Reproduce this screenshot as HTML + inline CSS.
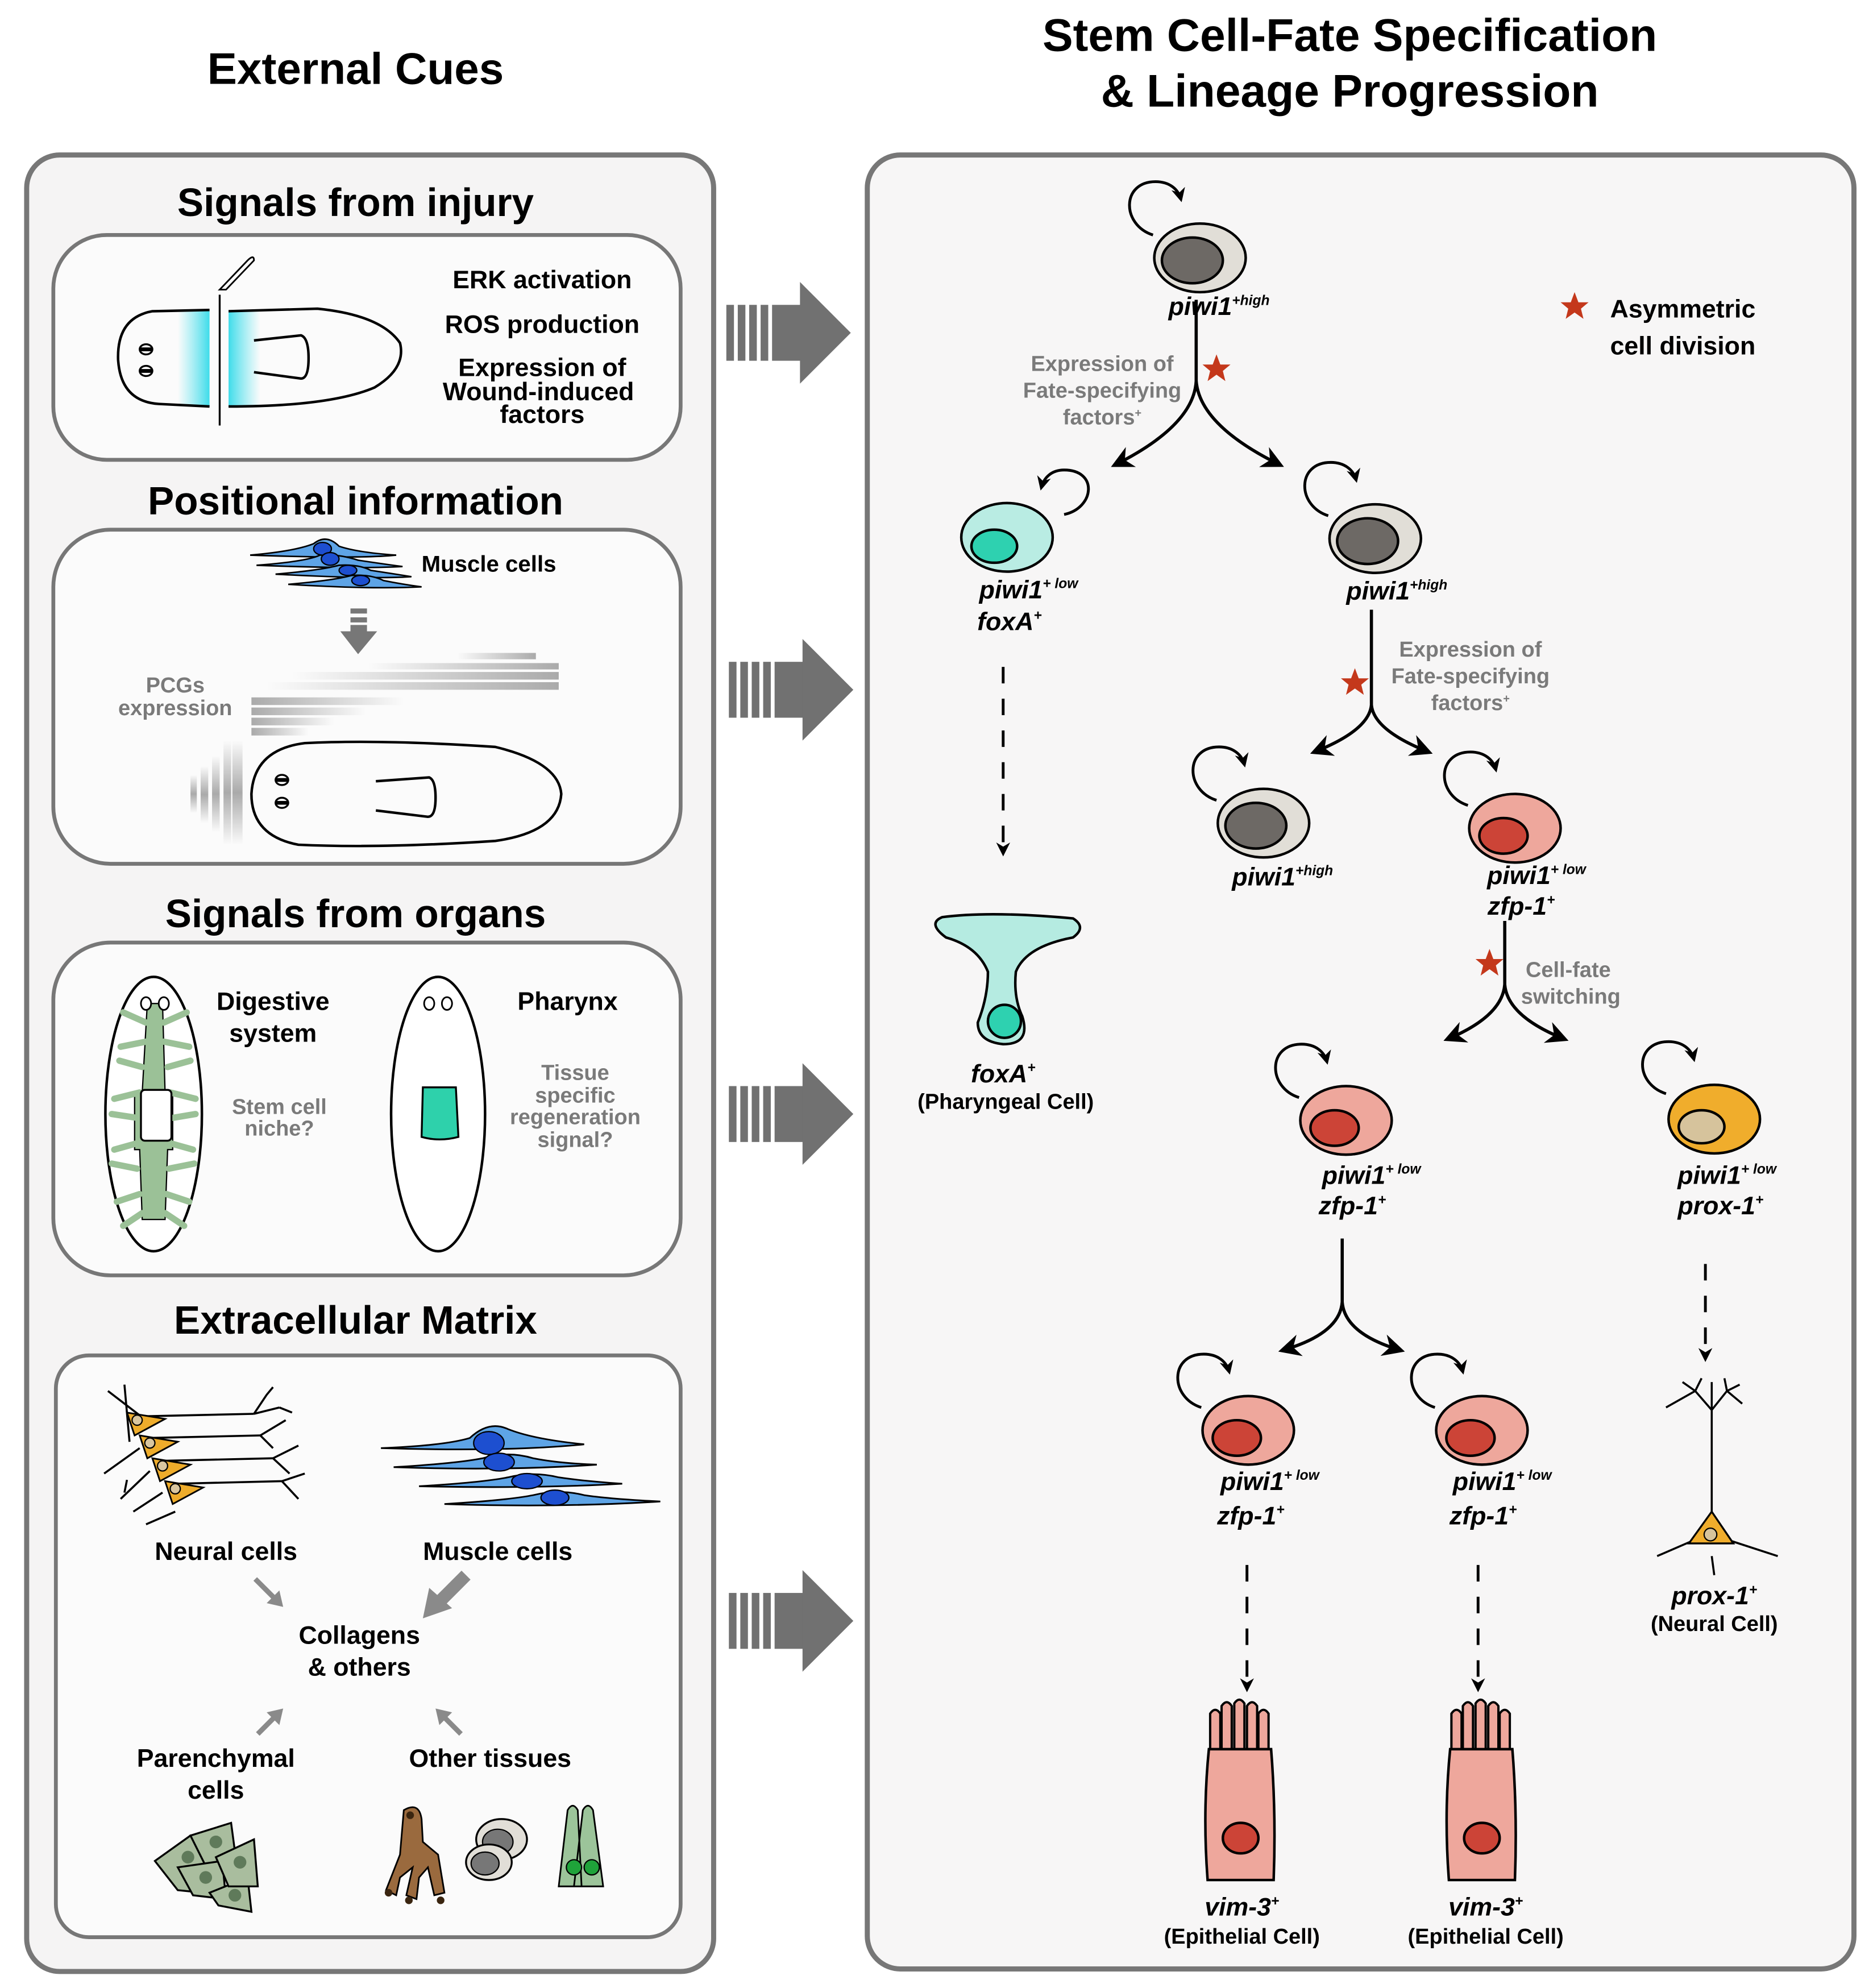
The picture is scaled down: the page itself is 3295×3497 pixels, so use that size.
<!DOCTYPE html>
<html><head><meta charset="utf-8"><style>
html,body{margin:0;padding:0;background:#fff}
svg{display:block}
text{font-family:"Liberation Sans",Arial,sans-serif}
.b{font-weight:bold}
.t{font-weight:bold;font-size:31px;text-anchor:middle}
.l{font-weight:bold;font-size:19px;text-anchor:middle}
.g{font-weight:bold;font-size:17px;fill:#7a7a7a;text-anchor:middle}
.p{font-weight:bold;font-style:italic;font-size:20px;text-anchor:middle}
.s{font-size:11px}
</style></head><body>
<svg width="3295" height="3497" viewBox="0 0 1475 1565" preserveAspectRatio="none" xmlns="http://www.w3.org/2000/svg">
<defs>
<marker id="ah" viewBox="0 0 10 10" refX="8" refY="5" markerWidth="5" markerHeight="5" orient="auto"><path d="M0,0 L10,5 L0,10 L3,5z" fill="#000"/></marker>
<marker id="ah2" viewBox="0 0 10 10" refX="8" refY="5" markerWidth="7" markerHeight="7" orient="auto"><path d="M0,0 L10,5 L0,10 L3,5z" fill="#000"/></marker>
<linearGradient id="cyL" x1="0" x2="1"><stop offset="0" stop-color="#5fe3ee" stop-opacity="0"/><stop offset="1" stop-color="#3fdcea"/></linearGradient>
<linearGradient id="cyR" x1="0" x2="1"><stop offset="0" stop-color="#3fdcea"/><stop offset="1" stop-color="#5fe3ee" stop-opacity="0"/></linearGradient>
<linearGradient id="grR" x1="0" x2="1"><stop offset="0" stop-color="#aaa" stop-opacity="0"/><stop offset="1" stop-color="#aaa"/></linearGradient>
<linearGradient id="grL" x1="0" x2="1"><stop offset="0" stop-color="#aaa"/><stop offset="1" stop-color="#aaa" stop-opacity="0"/></linearGradient>
<linearGradient id="grV" x1="0" x2="0" y1="0" y2="1"><stop offset="0" stop-color="#aaa" stop-opacity="0"/><stop offset=".5" stop-color="#aaa"/><stop offset="1" stop-color="#aaa" stop-opacity="0"/></linearGradient>
<g id="loopL"><path d="M-37,-18 C-62,-26 -62,-60 -35,-60 C-24,-60 -17,-54 -15,-46" fill="none" stroke="#000" stroke-width="2.2" marker-end="url(#ah)"/></g>
<g id="gray"><use href="#loopL"/><ellipse cx="0" cy="0" rx="36" ry="27" fill="#e1ded7" stroke="#000" stroke-width="2"/><ellipse cx="-6" cy="2" rx="24" ry="18" fill="#6d6965" stroke="#000" stroke-width="2"/></g>
<g id="pink"><use href="#loopL"/><ellipse cx="0" cy="0" rx="36" ry="27" fill="#eea79c" stroke="#000" stroke-width="2"/><ellipse cx="-9" cy="6" rx="19" ry="14" fill="#cc4437" stroke="#000" stroke-width="2"/></g>
<g id="bigarrow" fill="#717171"><rect x="0" y="-22" width="6" height="44"/><rect x="9" y="-22" width="6" height="44"/><rect x="18" y="-22" width="6" height="44"/><rect x="27" y="-22" width="6" height="44"/><rect x="36" y="-22" width="24" height="44"/><path d="M58,-40 L98,0 L58,40z"/></g>
<path id="star" d="M0,-11 L3,-3 L11,-3 L5,2 L7,10 L0,5 L-7,10 L-5,2 L-11,-3 L-3,-3z" fill="#c4381b"/>
<g id="epi"><path d="M-24,-68 l0,-30 q4,-6 8,0 l0,30 M-15,-68 l0,-36 q4,-6 8,0 l0,36 M-5,-68 l0,-38 q4,-6 8,0 l0,38 M5,-68 l0,-36 q4,-6 8,0 l0,36 M14,-68 l0,-30 q4,-6 8,0 l0,30" fill="#eea79c" stroke="#000" stroke-width="1.8"/><path d="M-25,-70 L24,-70 Q28,-20 26,33 L-26,33 Q-30,-20 -25,-70z" fill="#eea79c" stroke="#000" stroke-width="2"/><ellipse cx="0" cy="0" rx="14" ry="12" fill="#cc4437" stroke="#000" stroke-width="2"/></g>
</defs>
<rect width="1475" height="1565" fill="#fff"/>
<text x="280" y="66" class="t" style="font-size:35px">External Cues</text>
<text x="1063" y="40" class="t" style="font-size:36px">Stem Cell-Fate Specification</text>
<text x="1063" y="84" class="t" style="font-size:36px">&amp; Lineage Progression</text>
<rect x="21" y="122" width="541" height="1430" rx="26" fill="#f5f4f4" stroke="#777" stroke-width="4"/>
<rect x="683" y="122" width="777" height="1428" rx="26" fill="#f7f6f6" stroke="#777" stroke-width="4"/>

<!-- Box 1 -->
<text x="280" y="170" class="t">Signals from injury</text>
<rect x="42" y="185" width="494" height="177" rx="42" fill="#fbfbfb" stroke="#777" stroke-width="3"/>
<rect x="140" y="245" width="25" height="75" fill="url(#cyL)"/>
<rect x="180" y="245" width="25" height="75" fill="url(#cyR)"/>
<path d="M165,244 L120,245 Q92,250 93,283 Q95,316 125,318 L165,320" fill="none" stroke="#000" stroke-width="2"/>
<path d="M180,245 L250,243 Q300,248 315,270 Q320,290 295,305 Q260,320 180,320" fill="none" stroke="#000" stroke-width="2"/>
<path d="M200,268 L237,264 Q243,266 243,282 Q243,298 237,298 L200,293" fill="none" stroke="#000" stroke-width="2"/>
<ellipse cx="115" cy="275" rx="5" ry="4" fill="#fff" stroke="#000" stroke-width="1.5"/><ellipse cx="115" cy="292" rx="5" ry="4" fill="#fff" stroke="#000" stroke-width="1.5"/>
<path d="M110,275 h10 M110,292 h10" stroke="#000" stroke-width="3"/>
<line x1="173" y1="232" x2="173" y2="335" stroke="#000" stroke-width="1.5"/>
<path d="M173,228 L195,205 Q200,200 200,205 L178,228z" fill="#fff" stroke="#000" stroke-width="1.3"/>
<text x="427" y="227" class="l" style="font-size:20px">ERK activation</text>
<text x="427" y="262" class="l" style="font-size:20px">ROS production</text>
<text x="427" y="296" class="l" style="font-size:20px">Expression of</text>
<text x="424" y="315" class="l" style="font-size:20px">Wound-induced</text>
<text x="427" y="333" class="l" style="font-size:20px">factors</text>

<!-- Box 2 -->
<text x="280" y="405" class="t">Positional information</text>
<rect x="42" y="417" width="494" height="263" rx="45" fill="#fbfbfb" stroke="#777" stroke-width="3"/>
<g transform="translate(-8,0)">
<g fill="#5ea4e6" stroke="#000" stroke-width="1.2">
<path d="M205,437 Q240,434 255,428 Q265,420 275,430 Q290,435 320,437 Q290,440 205,437z"/>
<path d="M210,445 Q250,442 260,437 Q275,436 290,441 Q310,444 325,446 Q290,448 210,445z"/>
<path d="M225,452 Q260,449 275,445 Q290,444 300,449 Q320,452 332,454 Q300,456 225,452z"/>
<path d="M235,460 Q270,457 285,453 Q300,452 310,457 Q325,460 340,462 Q300,464 235,460z"/>
</g>
<g fill="#1d4fd0" stroke="#000" stroke-width="1"><ellipse cx="262" cy="432" rx="7" ry="5"/><ellipse cx="268" cy="440" rx="7" ry="5"/><ellipse cx="282" cy="449" rx="7" ry="4"/><ellipse cx="292" cy="457" rx="7" ry="4"/></g>
</g>
<text x="385" y="450" class="l" style="font-size:18px">Muscle cells</text>
<g fill="#777"><rect x="276" y="479" width="13" height="4"/><rect x="276" y="486" width="13" height="4"/><rect x="276" y="492" width="13" height="6"/><path d="M268,497 L297,497 L282,515z"/></g>
<rect x="360" y="514" width="62" height="5" fill="url(#grR)"/>
<rect x="290" y="522" width="150" height="5" fill="url(#grR)"/>
<rect x="230" y="529" width="210" height="6" fill="url(#grR)"/>
<rect x="210" y="537" width="230" height="6" fill="url(#grR)"/>
<rect x="198" y="549" width="120" height="6" fill="url(#grL)"/>
<rect x="198" y="557" width="90" height="6" fill="url(#grL)"/>
<rect x="198" y="565" width="65" height="6" fill="url(#grL)"/>
<rect x="198" y="573" width="45" height="6" fill="url(#grL)"/>
<text x="138" y="545" class="g">PCGs</text><text x="138" y="563" class="g">expression</text>
<rect x="183" y="583" width="8" height="82" fill="url(#grV)"/><rect x="176" y="583" width="6" height="82" fill="url(#grV)"/>
<rect x="167" y="595" width="6" height="60" fill="url(#grV)"/><rect x="158" y="603" width="6" height="45" fill="url(#grV)"/><rect x="150" y="610" width="5" height="30" fill="url(#grV)"/>
<path d="M240,585 Q300,582 390,588 Q440,600 442,625 Q440,655 390,662 Q300,668 235,665 Q198,658 198,625 Q200,590 240,585z" fill="none" stroke="#000" stroke-width="2"/>
<path d="M296,615 L338,612 Q343,614 343,628 Q343,643 337,643 L296,638" fill="none" stroke="#000" stroke-width="2"/>
<ellipse cx="222" cy="614" rx="5" ry="4" fill="#fff" stroke="#000" stroke-width="1.5"/><ellipse cx="222" cy="632" rx="5" ry="4" fill="#fff" stroke="#000" stroke-width="1.5"/>
<path d="M217,614 h10 M217,632 h10" stroke="#000" stroke-width="3"/>

<!-- Box 3 -->
<text x="280" y="730" class="t">Signals from organs</text>
<rect x="42" y="742" width="494" height="262" rx="45" fill="#fbfbfb" stroke="#777" stroke-width="3"/>
<ellipse cx="121" cy="877" rx="38" ry="108" fill="#fff" stroke="#000" stroke-width="2"/>
<g stroke="#000" stroke-width="1" fill="#9bc197">
<path d="M116,790 L128,790 L130,860 L136,860 L136,905 L132,905 L130,960 L112,960 L110,905 L106,905 L106,860 L112,860z"/>
</g>
<g stroke="#9bc197" stroke-width="5" stroke-linecap="round" fill="none">
<path d="M115,805 l-18,-8 M115,820 l-20,4 M112,840 l-18,-5 M110,860 l-20,5 M108,880 l-20,-3 M108,900 l-18,5 M108,920 l-20,-4 M110,940 l-18,6 M112,955 l-15,10"/>
<path d="M129,805 l18,-8 M129,820 l20,4 M132,840 l18,-5 M134,860 l20,5 M136,880 l18,-3 M134,900 l18,5 M133,920 l20,-4 M131,940 l18,6 M130,955 l15,10"/>
</g>
<rect x="111" y="858" width="24" height="40" rx="3" fill="#fff" stroke="#000" stroke-width="1.5"/>
<ellipse cx="115" cy="790" rx="4" ry="5" fill="#fff" stroke="#000" stroke-width="1.3"/><ellipse cx="129" cy="790" rx="4" ry="5" fill="#fff" stroke="#000" stroke-width="1.3"/>
<text x="215" y="795" class="l" style="font-size:20px">Digestive</text><text x="215" y="820" class="l" style="font-size:20px">system</text>
<text x="220" y="877" class="g">Stem cell</text><text x="220" y="894" class="g">niche?</text>
<ellipse cx="345" cy="877" rx="37" ry="108" fill="#fff" stroke="#000" stroke-width="2"/>
<ellipse cx="338" cy="790" rx="4" ry="5" fill="#fff" stroke="#000" stroke-width="1.3"/><ellipse cx="352" cy="790" rx="4" ry="5" fill="#fff" stroke="#000" stroke-width="1.3"/>
<path d="M333,856 L359,856 L361,895 Q346,899 332,895z" fill="#2ed1ab" stroke="#000" stroke-width="1.5"/>
<text x="447" y="795" class="l" style="font-size:20px">Pharynx</text>
<text x="453" y="850" class="g">Tissue</text><text x="453" y="868" class="g">specific</text><text x="453" y="885" class="g">regeneration</text><text x="453" y="903" class="g">signal?</text>

<!-- Box 4 -->
<text x="280" y="1050" class="t">Extracellular Matrix</text>
<rect x="44" y="1067" width="492" height="458" rx="26" fill="#fbfbfb" stroke="#777" stroke-width="3"/>
<g stroke="#000" stroke-width="1.6" fill="none">
<path d="M110,1115 L200,1113 M118,1132 L205,1130 M128,1150 L215,1148 M140,1168 L222,1166"/>
<path d="M85,1095 L115,1118 M98,1090 L102,1135 M82,1160 L110,1140 M95,1180 L118,1158 M105,1190 L128,1175 M115,1200 L138,1190 M100,1165 L98,1175"/>
<path d="M200,1113 L210,1098 M200,1113 L220,1108 M205,1130 L225,1118 M205,1130 L215,1140 M215,1148 L235,1138 M215,1148 L228,1160 M222,1166 L240,1160 M222,1166 L235,1180 M210,1098 L215,1092 M220,1108 L230,1112"/>
</g>
<g fill="#eeac2b" stroke="#000" stroke-width="1.3">
<path d="M100,1112 L130,1117 L106,1130z"/><path d="M110,1130 L140,1135 L116,1148z"/><path d="M120,1148 L150,1153 L126,1166z"/><path d="M130,1166 L160,1171 L136,1184z"/>
</g>
<g fill="#d9c6a0" stroke="#000" stroke-width="1"><circle cx="108" cy="1118" r="4"/><circle cx="118" cy="1136" r="4"/><circle cx="128" cy="1154" r="4"/><circle cx="138" cy="1172" r="4"/></g>
<g fill="#5ea4e6" stroke="#000" stroke-width="1.3">
<path d="M300,1140 Q350,1138 370,1132 Q385,1118 400,1125 Q420,1133 460,1137 Q400,1143 300,1140z"/>
<path d="M310,1155 Q360,1152 380,1148 Q400,1142 420,1148 Q440,1152 470,1153 Q400,1158 310,1155z"/>
<path d="M330,1170 Q380,1167 400,1163 Q420,1158 440,1163 Q460,1166 490,1168 Q420,1172 330,1170z"/>
<path d="M350,1184 Q400,1181 420,1177 Q440,1172 460,1177 Q480,1180 520,1182 Q440,1187 350,1184z"/>
</g>
<g fill="#1d4fd0" stroke="#000" stroke-width="1"><ellipse cx="385" cy="1136" rx="12" ry="9"/><ellipse cx="393" cy="1151" rx="12" ry="7"/><ellipse cx="415" cy="1166" rx="12" ry="6"/><ellipse cx="437" cy="1179" rx="11" ry="6"/></g>
<text x="178" y="1228" class="l" style="font-size:20px">Neural cells</text>
<text x="392" y="1228" class="l" style="font-size:20px">Muscle cells</text>
<g fill="#8a8a8a" stroke="#8a8a8a">
<line x1="201" y1="1243" x2="218" y2="1260" stroke-width="4"/><path d="M223,1265 L210,1262 L220,1252z" stroke="none"/>
<line x1="367" y1="1240" x2="345" y2="1262" stroke-width="10"/><path d="M333,1274 L338,1250 L356,1266z" stroke="none"/>
<line x1="203" y1="1365" x2="218" y2="1350" stroke-width="4"/><path d="M223,1345 L210,1348 L220,1358z" stroke="none"/>
<line x1="363" y1="1365" x2="348" y2="1350" stroke-width="4"/><path d="M343,1345 L356,1348 L346,1358z" stroke="none"/>
</g>
<text x="283" y="1294" class="l" style="font-size:20px">Collagens</text>
<text x="283" y="1319" class="l" style="font-size:20px">&amp; others</text>
<text x="170" y="1391" class="l" style="font-size:20px">Parenchymal</text>
<text x="170" y="1416" class="l" style="font-size:20px">cells</text>
<text x="386" y="1391" class="l" style="font-size:20px">Other tissues</text>
<g fill="#a9bd9e" stroke="#000" stroke-width="1.5">
<path d="M122,1465 L150,1445 L165,1460 L160,1490 L140,1488z"/>
<path d="M150,1445 L182,1435 L186,1465 L165,1475z"/>
<path d="M140,1470 L175,1465 L178,1495 L152,1492z"/>
<path d="M165,1490 L195,1478 L198,1505 L172,1500z"/>
<path d="M170,1462 L200,1448 L203,1485 L180,1485z"/>
</g>
<g fill="#5f7a5a"><circle cx="148" cy="1462" r="5"/><circle cx="170" cy="1450" r="5"/><circle cx="162" cy="1478" r="5"/><circle cx="189" cy="1466" r="5"/><circle cx="185" cy="1492" r="5"/></g>
<g fill="#9a6a3e" stroke="#000" stroke-width="1.3">
<path d="M318,1425 Q330,1418 332,1432 L333,1450 L345,1460 L350,1490 L342,1492 L337,1470 L330,1478 L328,1495 L320,1492 L325,1470 L315,1478 L312,1492 L304,1488 L315,1460z"/>
</g>
<g fill="#3a2510"><circle cx="323" cy="1429" r="3"/><circle cx="306" cy="1490" r="3"/><circle cx="322" cy="1496" r="3"/><circle cx="347" cy="1496" r="3"/></g>
<ellipse cx="395" cy="1448" rx="20" ry="16" fill="#e1ded7" stroke="#000" stroke-width="1.5"/><ellipse cx="392" cy="1450" rx="12" ry="10" fill="#777" stroke="#000"/>
<ellipse cx="385" cy="1466" rx="18" ry="14" fill="#e1ded7" stroke="#000" stroke-width="1.5"/><ellipse cx="382" cy="1467" rx="11" ry="9" fill="#777" stroke="#000"/>
<path d="M440,1485 L447,1425 Q451,1418 455,1425 L458,1485z M452,1485 L459,1425 Q463,1418 467,1425 L475,1485z" fill="#9cc49a" stroke="#000" stroke-width="1.3"/>
<circle cx="452" cy="1470" r="6" fill="#1fa33a" stroke="#000"/><circle cx="466" cy="1470" r="6" fill="#1fa33a" stroke="#000"/>

<!-- big arrows -->
<use href="#bigarrow" x="572" y="262"/>
<use href="#bigarrow" x="574" y="543"/>
<use href="#bigarrow" x="574" y="877"/>
<use href="#bigarrow" x="574" y="1276"/>

<!-- right diagram -->
<use href="#gray" x="945" y="203"/>
<text x="960" y="248" class="p">piwi1<tspan class="s" dy="-8">+high</tspan></text>
<use href="#star" x="1240" y="241"/>
<text x="1268" y="250" class="b" style="font-size:20px">Asymmetric</text>
<text x="1268" y="279" class="b" style="font-size:20px">cell division</text>
<text x="868" y="292" class="g">Expression of</text><text x="868" y="313" class="g">Fate-specifying</text><text x="868" y="334" class="g">factors<tspan style="font-size:9px" dy="-6">+</tspan></text>
<use href="#star" x="958" y="290"/>
<path d="M942,236 L942,300 Q940,335 878,366" fill="none" stroke="#000" stroke-width="2.5" marker-end="url(#ah2)"/>
<path d="M942,300 Q945,335 1008,366" fill="none" stroke="#000" stroke-width="2.5" marker-end="url(#ah2)"/>
<path d="M838,405 C862,400 865,370 838,370 C828,370 822,376 820,384" fill="none" stroke="#000" stroke-width="2.2" marker-end="url(#ah)"/>
<ellipse cx="793" cy="423" rx="36" ry="27" fill="#b9ece3" stroke="#000" stroke-width="2"/>
<ellipse cx="783" cy="430" rx="18" ry="13" fill="#2ed1b0" stroke="#000" stroke-width="2"/>
<text x="810" y="471" class="p">piwi1<tspan class="s" dy="-8">+ low</tspan></text>
<text x="795" y="496" class="p">foxA<tspan class="s" dy="-8">+</tspan></text>
<line x1="790" y1="525" x2="790" y2="672" stroke="#000" stroke-width="2.2" stroke-dasharray="13,12" marker-end="url(#ah)"/>
<path d="M742,722 Q780,717 845,723 Q856,730 845,738 Q808,745 800,765 Q798,785 805,800 Q812,822 790,822 Q770,820 770,805 Q778,785 778,765 Q770,745 745,738 Q730,727 742,722z" fill="#b5ebe1" stroke="#000" stroke-width="2"/>
<circle cx="791" cy="804" r="13" fill="#2ed1b0" stroke="#000" stroke-width="2"/>
<text x="790" y="852" class="p">foxA<tspan class="s" dy="-8">+</tspan></text>
<text x="792" y="873" class="l" style="font-size:17px">(Pharyngeal Cell)</text>

<use href="#gray" x="1083" y="424"/>
<text x="1100" y="472" class="p">piwi1<tspan class="s" dy="-8">+high</tspan></text>
<text x="1158" y="517" class="g">Expression of</text><text x="1158" y="538" class="g">Fate-specifying</text><text x="1158" y="559" class="g">factors<tspan style="font-size:9px" dy="-6">+</tspan></text>
<use href="#star" x="1067" y="537"/>
<path d="M1080,480 L1080,555 Q1078,575 1035,592" fill="none" stroke="#000" stroke-width="2.5" marker-end="url(#ah2)"/>
<path d="M1080,555 Q1082,575 1125,592" fill="none" stroke="#000" stroke-width="2.5" marker-end="url(#ah2)"/>
<use href="#gray" x="995" y="648"/>
<text x="1010" y="697" class="p">piwi1<tspan class="s" dy="-8">+high</tspan></text>
<use href="#pink" x="1193" y="652"/>
<text x="1210" y="696" class="p">piwi1<tspan class="s" dy="-8">+ low</tspan></text>
<text x="1198" y="720" class="p">zfp-1<tspan class="s" dy="-8">+</tspan></text>
<use href="#star" x="1173" y="758"/>
<text x="1235" y="769" class="g">Cell-fate</text><text x="1237" y="790" class="g">switching</text>
<path d="M1185,725 L1185,775 Q1183,800 1140,818" fill="none" stroke="#000" stroke-width="2.5" marker-end="url(#ah2)"/>
<path d="M1185,775 Q1187,800 1232,818" fill="none" stroke="#000" stroke-width="2.5" marker-end="url(#ah2)"/>
<use href="#pink" x="1060" y="882"/>
<text x="1080" y="932" class="p">piwi1<tspan class="s" dy="-8">+ low</tspan></text>
<text x="1065" y="956" class="p">zfp-1<tspan class="s" dy="-8">+</tspan></text>
<path d="M1312,861 C1287,853 1287,820 1314,820 C1325,820 1332,826 1334,834" fill="none" stroke="#000" stroke-width="2.2" marker-end="url(#ah)"/>
<ellipse cx="1350" cy="881" rx="36" ry="27" fill="#f0ad2c" stroke="#000" stroke-width="2"/>
<ellipse cx="1340" cy="887" rx="18" ry="13" fill="#d6c39c" stroke="#000" stroke-width="2"/>
<text x="1360" y="932" class="p">piwi1<tspan class="s" dy="-8">+ low</tspan></text>
<text x="1355" y="956" class="p">prox-1<tspan class="s" dy="-8">+</tspan></text>
<line x1="1343" y1="995" x2="1343" y2="1070" stroke="#000" stroke-width="2.2" stroke-dasharray="13,12" marker-end="url(#ah)"/>
<g stroke="#000" stroke-width="1.6" fill="none">
<path d="M1348,1195 L1348,1110 M1348,1110 L1335,1095 L1325,1088 M1335,1095 L1340,1085 M1348,1110 L1360,1095 L1370,1090 M1360,1095 L1358,1085 M1335,1095 L1312,1108 M1360,1095 L1372,1105 M1348,1110 L1348,1088"/>
<path d="M1335,1212 L1305,1225 M1360,1212 L1400,1225 M1348,1225 L1350,1240"/>
</g>
<path d="M1348,1190 L1365,1215 L1330,1215z" fill="#f0ad2c" stroke="#000" stroke-width="1.5"/>
<circle cx="1347" cy="1208" r="5" fill="#d6c39c" stroke="#000"/>
<text x="1350" y="1263" class="p">prox-1<tspan class="s" dy="-8">+</tspan></text>
<text x="1350" y="1284" class="l" style="font-size:17px">(Neural Cell)</text>

<path d="M1057,975 L1057,1025 Q1055,1050 1010,1063" fill="none" stroke="#000" stroke-width="2.5" marker-end="url(#ah2)"/>
<path d="M1057,1025 Q1059,1050 1103,1063" fill="none" stroke="#000" stroke-width="2.5" marker-end="url(#ah2)"/>
<use href="#pink" x="983" y="1126"/>
<use href="#pink" x="1167" y="1126"/>
<text x="1000" y="1173" class="p">piwi1<tspan class="s" dy="-8">+ low</tspan></text>
<text x="985" y="1200" class="p">zfp-1<tspan class="s" dy="-8">+</tspan></text>
<text x="1183" y="1173" class="p">piwi1<tspan class="s" dy="-8">+ low</tspan></text>
<text x="1168" y="1200" class="p">zfp-1<tspan class="s" dy="-8">+</tspan></text>
<line x1="982" y1="1232" x2="982" y2="1330" stroke="#000" stroke-width="2.2" stroke-dasharray="13,12" marker-end="url(#ah)"/>
<line x1="1164" y1="1232" x2="1164" y2="1330" stroke="#000" stroke-width="2.2" stroke-dasharray="13,12" marker-end="url(#ah)"/>
<use href="#epi" x="977" y="1447"/>
<use href="#epi" x="1167" y="1447"/>
<text x="978" y="1508" class="p">vim-3<tspan class="s" dy="-8">+</tspan></text>
<text x="978" y="1530" class="l" style="font-size:17px">(Epithelial Cell)</text>
<text x="1170" y="1508" class="p">vim-3<tspan class="s" dy="-8">+</tspan></text>
<text x="1170" y="1530" class="l" style="font-size:17px">(Epithelial Cell)</text>
</svg>
</body></html>
